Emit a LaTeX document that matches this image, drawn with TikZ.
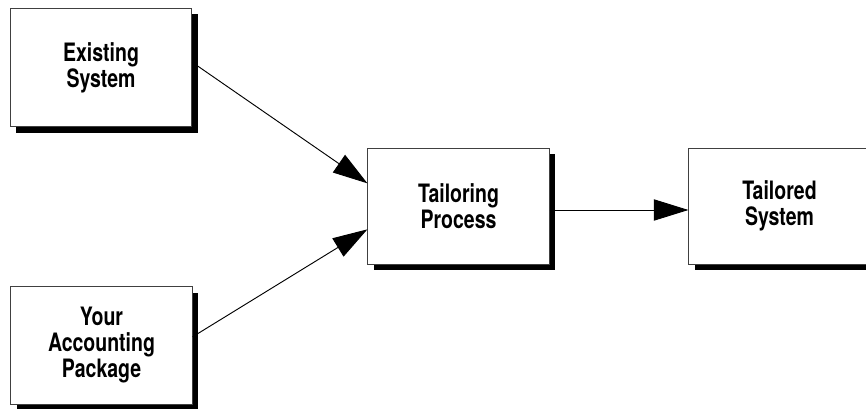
\documentclass[tikz,border=0pt]{standalone}
\usepackage{fontspec}
\setmainfont{TeX Gyre Heros}[FakeStretch=0.77]
\usepackage{tikz}
\usetikzlibrary{positioning}
\usetikzlibrary{arrows.meta}
\usetikzlibrary{shadows}

\begin{document}
\begin{tikzpicture}[x=0.75pt,y=-0.75pt,
    box/.style={draw=black!75, line width=0.6pt, fill=white, align=center,
        minimum width=136pt, minimum height=88pt, inner sep=0pt,
        font=\fontsize{19}{19.5}\selectfont\bfseries,
        drop shadow={shadow xshift=4.5pt, shadow yshift=-4.5pt, fill=black, opacity=1}},
    link/.style={draw=black, line width=0.7pt, -{Triangle[length=26pt,width=16pt]}}]
    \useasboundingbox (0,0) rectangle (866,409);

    \node[box, minimum height=89pt] (existing) at (101,67.5) {Existing\\System};
    \node[box] (package) at (101.5,345.5) {Your\\Accounting\\Package};
    \node[box, minimum height=87pt] (process) at (458.5,206) {Tailoring\\Process};
    \node[box, minimum height=87pt] (tailored) at (779.5,206) {Tailored\\System};

    \draw[link] ([yshift=4pt]existing.east) -- ([yshift=17pt]process.west);
    \draw[link] ([yshift=6.5pt]package.east) -- ([yshift=-17.5pt]process.west);
    \draw[link] ([yshift=-3pt]process.east) -- ([yshift=-3pt]tailored.west);
\end{tikzpicture}
\end{document}
